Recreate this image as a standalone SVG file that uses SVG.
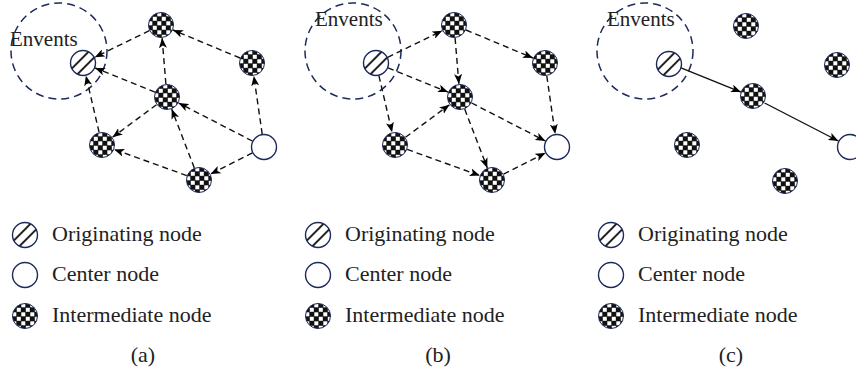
<svg xmlns="http://www.w3.org/2000/svg" xmlns:xlink="http://www.w3.org/1999/xlink" width="856" height="375" viewBox="0 0 856 375">
<style>
.ev{fill:none;stroke:#1c2b5c;stroke-width:1.5;stroke-dasharray:8 5}
.dash{fill:none;stroke:#111;stroke-width:1.4;stroke-dasharray:6 4;marker-end:url(#ah)}
.solid{fill:none;stroke:#111;stroke-width:1.4;marker-end:url(#ah)}
.t{font-family:"Liberation Serif","Times New Roman",serif;font-size:21px;fill:#222}
.lg{font-family:"Liberation Serif","Times New Roman",serif;font-size:22px;fill:#222}
.cap{font-family:"Liberation Serif","Times New Roman",serif;font-size:22px;fill:#222;text-anchor:middle}
</style>
<defs>
<marker id="ah" markerUnits="userSpaceOnUse" markerWidth="10" markerHeight="8" refX="10" refY="4" orient="auto"><path d="M0,0 L10,4 L0,8 L2.5,4 z" fill="#000"/></marker>
<pattern id="chk" patternUnits="userSpaceOnUse" x="-13" y="-13" width="9" height="9"><rect width="9" height="9" fill="#111"/><rect x="0.3" y="0.3" width="4" height="4" fill="#fff"/><rect x="4.8" y="4.8" width="4" height="4" fill="#fff"/></pattern>
<clipPath id="cc"><circle cx="0" cy="0" r="12.5"/></clipPath>
<g id="orig"><circle r="12.5" fill="#fff"/><g clip-path="url(#cc)" stroke="#222" stroke-width="2"><line x1="-20" y1="14.3" x2="14.3" y2="-20"/><line x1="-14.3" y1="20" x2="20" y2="-14.3"/></g><circle r="12.5" fill="none" stroke="#1c2b5c" stroke-width="1.4"/></g>
<g id="cent"><circle r="12.5" fill="#fff" stroke="#1c2b5c" stroke-width="1.4"/></g>
<g id="inter"><circle r="12.5" fill="url(#chk)" stroke="#1c2b5c" stroke-width="1"/></g>
</defs>

<!-- Panel (a) -->
<g id="panel-a">
<circle class="ev" cx="59" cy="51" r="48"/>
<text class="t" x="10" y="46">Envents</text>
<g id="a-edges">
<line class="dash" x1="149.3" y1="30.7" x2="94.7" y2="57.3"/>
<line class="dash" x1="240" y1="58" x2="173" y2="30"/>
<line class="dash" x1="155" y1="92.1" x2="95" y2="67.9"/>
<line class="dash" x1="165.9" y1="84" x2="162.1" y2="38"/>
<line class="dash" x1="262.2" y1="134.1" x2="253.8" y2="75.9"/>
<line class="dash" x1="252.4" y1="141" x2="178.6" y2="103"/>
<line class="dash" x1="252.4" y1="152.9" x2="210.6" y2="174.1"/>
<line class="dash" x1="194.3" y1="167.9" x2="171.7" y2="109.1"/>
<line class="dash" x1="186.8" y1="175.6" x2="114.2" y2="149.4"/>
<line class="dash" x1="156.5" y1="104.7" x2="112.5" y2="137.3"/>
<line class="dash" x1="99.1" y1="132.3" x2="85.9" y2="75.7"/>
</g>
<g id="a-O"><use xlink:href="#orig" x="83" y="63"/></g>
<g id="a-T"><use xlink:href="#inter" x="161" y="25"/></g>
<g id="a-R"><use xlink:href="#inter" x="252" y="63"/></g>
<g id="a-M"><use xlink:href="#inter" x="167" y="97"/></g>
<g id="a-L"><use xlink:href="#inter" x="102" y="145"/></g>
<g id="a-B"><use xlink:href="#inter" x="199" y="180"/></g>
<g id="a-C"><use xlink:href="#cent" x="264" y="147"/></g>
<g id="a-legend">
<use xlink:href="#orig" x="25" y="235"/><text class="lg" x="52" y="241">Originating node</text>
<use xlink:href="#cent" x="25" y="275"/><text class="lg" x="52" y="281">Center node</text>
<use xlink:href="#inter" x="25" y="316"/><text class="lg" x="52" y="322">Intermediate node</text>
<text class="cap" x="143" y="362">(a)</text>
</g>
</g>

<!-- Panel (b) -->
<g id="panel-b" transform="translate(293,0)">
<circle class="ev" cx="60" cy="51" r="48"/>
<text class="t" x="22" y="26">Envents</text>
<g id="b-edges">
<line class="dash" x1="94.7" y1="57.3" x2="149.3" y2="30.7"/>
<line class="dash" x1="95" y1="67.9" x2="155" y2="92.1"/>
<line class="dash" x1="85.9" y1="75.7" x2="99.1" y2="132.3"/>
<line class="dash" x1="173" y1="30" x2="240" y2="58"/>
<line class="dash" x1="162.1" y1="38" x2="165.9" y2="84"/>
<line class="dash" x1="112.5" y1="137.3" x2="156.5" y2="104.7"/>
<line class="dash" x1="114.2" y1="149.4" x2="186.8" y2="175.6"/>
<line class="dash" x1="171.7" y1="109.1" x2="194.3" y2="167.9"/>
<line class="dash" x1="178.6" y1="103" x2="252.4" y2="141"/>
<line class="dash" x1="253.8" y1="75.9" x2="262.2" y2="134.1"/>
<line class="dash" x1="210.6" y1="174.1" x2="252.4" y2="152.9"/>
</g>
<g id="b-O"><use xlink:href="#orig" x="83" y="63"/></g>
<g id="b-T"><use xlink:href="#inter" x="161" y="25"/></g>
<g id="b-R"><use xlink:href="#inter" x="252" y="63"/></g>
<g id="b-M"><use xlink:href="#inter" x="167" y="97"/></g>
<g id="b-L"><use xlink:href="#inter" x="102" y="145"/></g>
<g id="b-B"><use xlink:href="#inter" x="199" y="180"/></g>
<g id="b-C"><use xlink:href="#cent" x="264" y="147"/></g>
<g id="b-legend">
<use xlink:href="#orig" x="25" y="235"/><text class="lg" x="52" y="241">Originating node</text>
<use xlink:href="#cent" x="25" y="275"/><text class="lg" x="52" y="281">Center node</text>
<use xlink:href="#inter" x="25" y="316"/><text class="lg" x="52" y="322">Intermediate node</text>
<text class="cap" x="145" y="362">(b)</text>
</g>
</g>

<!-- Panel (c) -->
<g id="panel-c" transform="translate(586,0)">
<circle class="ev" cx="59" cy="51" r="48"/>
<text class="t" x="21" y="26">Envents</text>
<g id="c-edges">
<line class="solid" x1="95" y1="67.9" x2="155" y2="92.1"/>
<line class="solid" x1="178.6" y1="103" x2="252.4" y2="141"/>
</g>
<g id="c-O"><use xlink:href="#orig" x="83" y="64"/></g>
<g id="c-T"><use xlink:href="#inter" x="160" y="26"/></g>
<g id="c-R"><use xlink:href="#inter" x="251" y="65"/></g>
<g id="c-M"><use xlink:href="#inter" x="167" y="96"/></g>
<g id="c-L"><use xlink:href="#inter" x="101" y="145"/></g>
<g id="c-B"><use xlink:href="#inter" x="199" y="181"/></g>
<g id="c-C"><use xlink:href="#cent" x="264" y="147"/></g>
<g id="c-legend">
<use xlink:href="#orig" x="25" y="235"/><text class="lg" x="52" y="241">Originating node</text>
<use xlink:href="#cent" x="25" y="275"/><text class="lg" x="52" y="281">Center node</text>
<use xlink:href="#inter" x="25" y="316"/><text class="lg" x="52" y="322">Intermediate node</text>
<text class="cap" x="145" y="362">(c)</text>
</g>
</g>
</svg>
